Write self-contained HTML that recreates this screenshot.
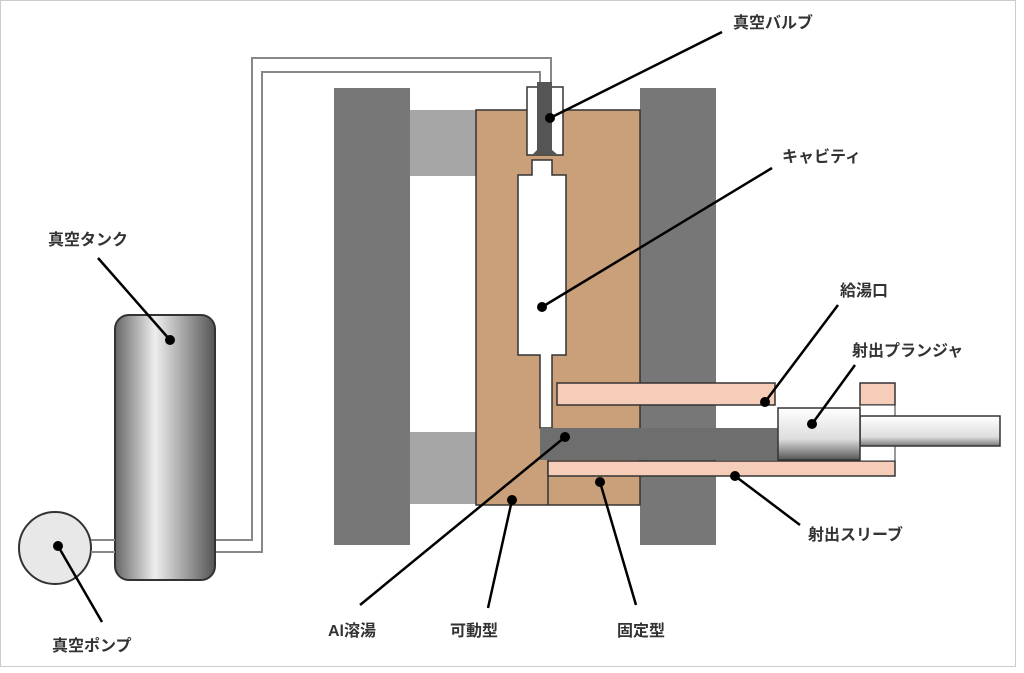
<!DOCTYPE html>
<html><head><meta charset="utf-8"><style>
body{margin:0;background:#fff}
svg text{font-family:"Liberation Sans","Noto Sans CJK JP",sans-serif;font-size:16px;fill:#333;font-weight:bold}
</style></head><body>
<svg width="1024" height="668" viewBox="0 0 1024 668" xmlns="http://www.w3.org/2000/svg">
<defs>
<linearGradient id="tk" x1="0" x2="1"><stop offset="0" stop-color="#666"/><stop offset=".4" stop-color="#eee"/><stop offset="1" stop-color="#555"/></linearGradient>
<linearGradient id="pl" x1="0" y1="0" x2="0" y2="1"><stop offset="0" stop-color="#fff"/><stop offset=".6" stop-color="#ddd"/><stop offset="1" stop-color="#555"/></linearGradient>
<linearGradient id="rd" x1="0" y1="0" x2="0" y2="1"><stop offset="0" stop-color="#fff"/><stop offset=".7" stop-color="#ddd"/><stop offset="1" stop-color="#777"/></linearGradient>
</defs>
<rect x="0.5" y="0.5" width="1015" height="666" fill="none" stroke="#ccc"/>
<!-- pipes -->
<path d="M215 540 H252 V58 H551 V90" fill="none" stroke="#888" stroke-width="2"/>
<path d="M215 552 H262 V72 H540 V90" fill="none" stroke="#888" stroke-width="2"/>
<!-- plates -->
<rect x="334" y="88" width="76" height="457" fill="#777"/>
<rect x="640" y="88" width="76" height="457" fill="#777"/>
<rect x="410" y="110" width="66" height="66" fill="#a6a6a6"/>
<rect x="410" y="432" width="66" height="72" fill="#a6a6a6"/>
<!-- molds -->
<rect x="476" y="110" width="164" height="395" fill="#c9a07a" stroke="#333" stroke-width="1.5"/>
<line x1="548" y1="430" x2="548" y2="505" stroke="#333" stroke-width="1.5"/>
<!-- cavity -->
<path d="M518 175 H532 V160 H552 V175 H566 V355 H552 V428 H540 V355 H518 Z" fill="#fff" stroke="#333" stroke-width="1.5"/>
<!-- valve -->
<rect x="527" y="87" width="36" height="68" fill="#fff" stroke="#333" stroke-width="1.5"/>
<path d="M537 82 H552 V150 L558 155 H532 L537 150Z" fill="#555"/>
<!-- sleeves -->
<rect x="557" y="383" width="218" height="22" fill="#f6cdb8" stroke="#333" stroke-width="1.5"/>
<rect x="860" y="383" width="35" height="22" fill="#f6cdb8" stroke="#333" stroke-width="1.5"/>
<rect x="540" y="428" width="240" height="32" fill="#6e6e6e"/>
<rect x="548" y="461" width="347" height="15" fill="#f6cdb8" stroke="#333" stroke-width="1.5"/>
<rect x="860" y="405" width="35" height="56" fill="#fff" stroke="#333"/>
<rect x="860" y="416" width="140" height="30" fill="url(#rd)" stroke="#333" stroke-width="1.5"/>
<rect x="778" y="408" width="82" height="52" fill="url(#pl)" stroke="#333" stroke-width="1.5"/>
<!-- tank & pump -->
<rect x="115" y="315" width="100" height="265" rx="14" fill="url(#tk)" stroke="#333" stroke-width="2"/>
<circle cx="55" cy="548" r="36" fill="#e8e8e8" stroke="#333" stroke-width="2"/>
<line x1="91" y1="540" x2="115" y2="540" stroke="#888" stroke-width="2"/>
<line x1="91" y1="552" x2="115" y2="552" stroke="#888" stroke-width="2"/>
<!-- leaders -->
<g stroke="#000" stroke-width="2.5">
<line x1="722" y1="32" x2="550" y2="118"/>
<line x1="772" y1="168" x2="542" y2="307"/>
<line x1="98" y1="258" x2="170" y2="340"/>
<line x1="838" y1="305" x2="765" y2="402"/>
<line x1="855" y1="365" x2="812" y2="424"/>
<line x1="800" y1="525" x2="735" y2="476"/>
<line x1="102" y1="622" x2="58" y2="546"/>
<line x1="360" y1="605" x2="565" y2="437"/>
<line x1="488" y1="608" x2="512" y2="500"/>
<line x1="636" y1="605" x2="600" y2="482"/>
</g>
<g fill="#000">
<circle cx="550" cy="118" r="5"/><circle cx="542" cy="307" r="5"/><circle cx="170" cy="340" r="5"/>
<circle cx="765" cy="402" r="5"/><circle cx="812" cy="424" r="5"/><circle cx="735" cy="476" r="5"/>
<circle cx="58" cy="546" r="5"/><circle cx="565" cy="437" r="5"/><circle cx="512" cy="500" r="5"/><circle cx="600" cy="482" r="5"/>
</g>
<text x="733" y="28">真空バルブ</text>
<text x="782" y="162">キャビティ</text>
<text x="48" y="245">真空タンク</text>
<text x="840" y="296">給湯口</text>
<text x="852" y="356">射出プランジャ</text>
<text x="808" y="540">射出スリーブ</text>
<text x="52" y="651">真空ポンプ</text>
<text x="328" y="636">Al溶湯</text>
<text x="450" y="636">可動型</text>
<text x="617" y="636">固定型</text>
</svg>
</body></html>
